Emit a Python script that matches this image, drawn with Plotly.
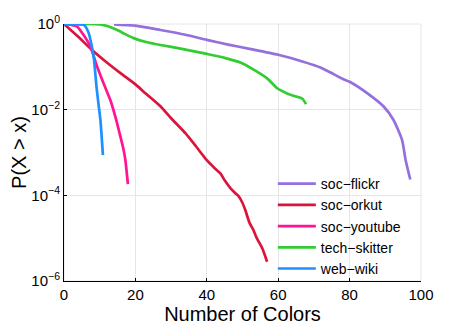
import plotly.graph_objects as go

# ---- data ----
flickr_x = [14, 20, 27, 34, 40, 46, 52, 60, 67, 72, 75.5, 78, 80, 85, 89.6, 92.3, 94.7, 95.7, 97]
flickr_y = [0.98, 0.912, 0.724, 0.562, 0.427, 0.331, 0.263, 0.191, 0.132, 0.0955, 0.0676, 0.0525,
            0.0447, 0.0240, 0.0117, 0.00575, 0.00195, 0.00066, 0.000234]

orkut_x = [0, 4, 8, 12, 16, 20, 23, 27, 30, 34, 37, 40, 42, 43.8, 45, 46.6, 48, 48.9,
           50, 50.8, 52, 53, 54, 55.5, 56.9]
orkut_y = [1, 0.501, 0.240, 0.126, 0.0692, 0.0389, 0.0234, 0.0120, 0.00631,
           0.00282, 0.00138, 0.00066, 0.000447, 0.000324, 0.000224, 0.000148, 0.000112, 0.0000955,
           0.0000661, 0.0000447, 0.0000224, 0.0000158, 0.00001, 0.00000589, 0.00000282]

youtube_x = [0, 2, 3.7, 5.5, 7.4, 9.3, 11.1, 13, 14.4, 15.6, 16.7, 17.2, 17.9]
youtube_y = [1, 0.955, 0.871, 0.550, 0.295, 0.1, 0.0407, 0.0166, 0.00676, 0.00275,
             0.00115, 0.00066, 0.000182]

skitter_x = [0, 5, 10.2, 12.5, 14.9, 17, 19.5, 23, 27, 33, 40, 45, 49.4, 53, 56.9, 58.5, 59.7,
             61, 62.5, 64.5, 66.7, 67.8]
skitter_y = [1, 1, 0.977, 0.871, 0.724, 0.589, 0.468, 0.380, 0.324, 0.263, 0.200, 0.162, 0.126,
             0.0871, 0.0537, 0.0398, 0.0316, 0.0275, 0.0240, 0.0209, 0.0182, 0.0135]

wiki_x = [0, 3, 5.5, 6.2, 6.95, 7.4, 8.3, 9.1, 9.75, 10.2, 10.9]
wiki_y = [1, 1, 0.955, 0.832, 0.603, 0.427, 0.174, 0.0347, 0.0117, 0.00575, 0.000871]

series_names = ["soc\u2212flickr", "soc\u2212orkut", "soc\u2212youtube", "tech\u2212skitter", "web\u2212wiki"]
series_colors = ["#9370DB", "#DC143C", "#FF1493", "#32CD32", "#1E90FF"]

x_ticks = [0, 20, 40, 60, 80, 100]
y_tickvals = [1, 1e-2, 1e-4, 1e-6]
y_ticktext = ["10<sup>0</sup>", "10<sup>\u22122</sup>", "10<sup>\u22124</sup>", "10<sup>\u22126</sup>"]

fig = go.Figure()
for name, color, xs, ys in zip(series_names, series_colors,
                               [flickr_x, orkut_x, youtube_x, skitter_x, wiki_x],
                               [flickr_y, orkut_y, youtube_y, skitter_y, wiki_y]):
    fig.add_trace(go.Scatter(x=xs, y=ys, mode="lines", name=name,
                             line=dict(color=color, width=2.7, shape="spline", smoothing=0.6)))

font_family = "Liberation Sans, Arial, sans-serif"
fig.update_layout(
    width=457, height=319,
    margin=dict(l=56, r=44, t=16, b=46),
    paper_bgcolor="white", plot_bgcolor="white",
    font=dict(family=font_family, color="black", size=15),
    showlegend=True,
    legend=dict(x=0.585, y=-0.012, xanchor="left", yanchor="bottom",
                bgcolor="rgba(255,255,255,0)", font=dict(size=14, family=font_family),
                itemwidth=38, tracegroupgap=0),
    shapes=[dict(type="rect", xref="paper", yref="paper", x0=0, x1=1, y0=0, y1=1,
                 line=dict(color="#E6E6E6", width=1), layer="below")],
)
fig.update_xaxes(range=[0, 100], tickvals=x_ticks, showgrid=True, gridcolor="#E6E6E6",
                 showline=True, linecolor="black", linewidth=1, ticks="inside", ticklen=3,
                 tickcolor="black", zeroline=False, automargin=False,
                 tickfont=dict(size=15),
                 title=dict(text="Number of Colors", font=dict(size=20), standoff=2))
fig.update_yaxes(type="log", range=[-6, 0], tickvals=y_tickvals, ticktext=y_ticktext,
                 showgrid=True, gridcolor="#E6E6E6",
                 showline=True, linecolor="black", linewidth=1, ticks="inside", ticklen=3,
                 tickcolor="black", zeroline=False, automargin=False,
                 tickfont=dict(size=15),
                 title=dict(text="P(X > x)", font=dict(size=20), standoff=9))

fig.write_html("out.html")
